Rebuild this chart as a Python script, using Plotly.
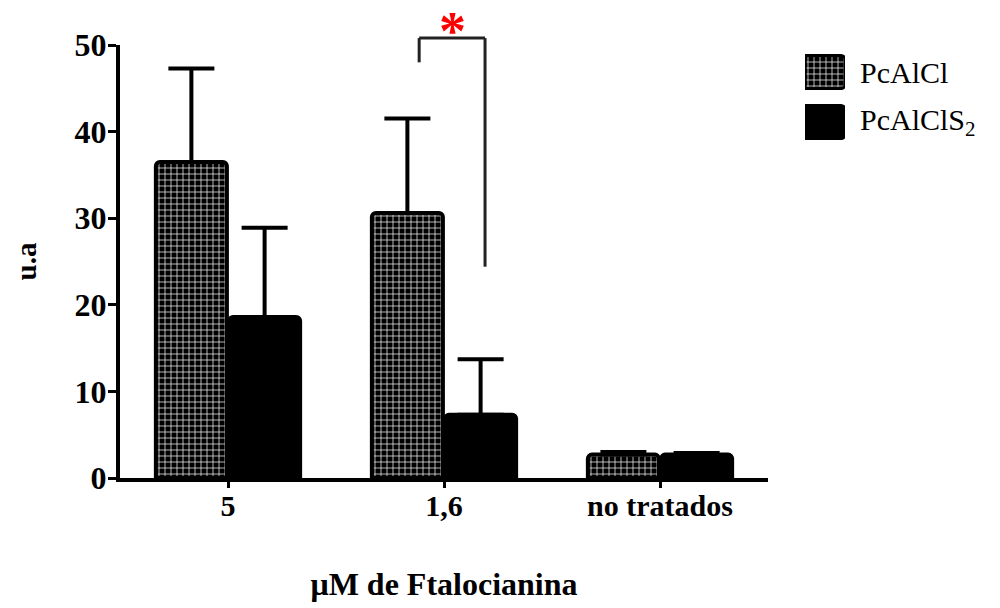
import plotly.graph_objects as go

# Concentration groups on the x axis
categories = ["5", "1,6", "no tratados"]

# Mean signal (u.a) and standard deviation for each compound
pcalcl_mean = [36.5, 30.6, 2.7]
pcalcl_sd = [10.8, 10.9, 0.3]
pcalcls2_mean = [18.6, 7.3, 2.7]
pcalcls2_sd = [10.3, 6.4, 0.2]

# Series names shown in the key
series_names = ["PcAlCl", "PcAlClS<sub>2</sub>"]

# Y axis ticks
y_ticks = [0, 10, 20, 30, 40, 50]

# Significance bracket between the two bars of the "1,6" group
sig_group = 1
sig_text = "*"

FONT = "Times New Roman, Liberation Serif, serif"
W, H = 1000, 608
ML, MT, MB = 120, 45, 130
PLOT_W = W - ML            # right margin 0, main axis uses part of the width
PLOT_H = H - MT - MB
MAIN_RIGHT_PX = 768

def px_x(px):
    return (px - ML) / PLOT_W

def px_y(px):
    return (H - MB - px) / PLOT_H

PATTERN = dict(shape="+", fgcolor="white", bgcolor="black", size=6,
               solidity=0.22, fillmode="replace")

fig = go.Figure()

fig.add_trace(go.Bar(
    name=series_names[0], x=categories, y=pcalcl_mean, showlegend=False,
    error_y=dict(type="data", array=pcalcl_sd, arrayminus=[0, 0, 0],
                 color="black", thickness=4, width=23),
    marker=dict(color="black", line=dict(color="black", width=4),
                cornerradius=4, pattern=PATTERN),
))

fig.add_trace(go.Bar(
    name=series_names[1], x=categories, y=pcalcls2_mean, showlegend=False,
    error_y=dict(type="data", array=pcalcls2_sd, arrayminus=[0, 0, 0],
                 color="black", thickness=4, width=23),
    marker=dict(color="black", line=dict(color="black", width=4), cornerradius=4),
))

# Key swatches drawn as bars in a small inset axis
fig.add_trace(go.Bar(
    x=[1, 1], y=series_names, orientation="h", xaxis="x2", yaxis="y2",
    width=0.66, showlegend=False, hoverinfo="skip",
    marker=dict(color="black", line=dict(color="black", width=3), cornerradius=4,
                pattern=dict(shape=["+", ""], fgcolor="white", bgcolor="black",
                             size=6, solidity=0.22, fillmode="replace")),
))
for name in series_names:
    fig.add_annotation(x=px_x(858), xref="paper", y=name, yref="y2",
                       text=name, showarrow=False, xanchor="left", yanchor="middle",
                       font=dict(family=FONT, size=30, color="black"))

# Bracket: left leg over the PcAlCl bar, right leg over the PcAlClS2 bar
x_left = sig_group - 0.115
x_right = sig_group + 0.19
y_top, y_left_end, y_right_end = 50.8, 48.0, 24.4
ymax = y_ticks[-1]
bracket_style = dict(color="#222222", width=3)
fig.add_shape(type="line", xref="x", yref="paper", x0=x_left, x1=x_right,
              y0=y_top / ymax, y1=y_top / ymax, line=bracket_style)
fig.add_shape(type="line", xref="x", yref="paper", x0=x_left, x1=x_left,
              y0=y_top / ymax, y1=y_left_end / ymax, line=bracket_style)
fig.add_shape(type="line", xref="x", yref="paper", x0=x_right, x1=x_right,
              y0=y_top / ymax, y1=y_right_end / ymax, line=bracket_style)
fig.add_annotation(x=(x_left + x_right) / 2, xref="x", y=y_top / ymax, yref="paper",
                   text=sig_text, showarrow=False, yanchor="bottom", yshift=-25,
                   font=dict(family=FONT, size=54, color="red", weight="bold"))

AXIS_COMMON = dict(showline=True, linecolor="black", linewidth=4,
                   ticks="outside", tickwidth=3, tickcolor="black",
                   showgrid=False, zeroline=False)

fig.update_layout(
    width=W, height=H,
    margin=dict(l=ML, r=0, t=MT, b=MB),
    paper_bgcolor="white", plot_bgcolor="white",
    barmode="group", bargap=0.322, bargroupgap=0.03,
    font=dict(family=FONT, color="black"),
    showlegend=False,
    xaxis=dict(
        domain=[0, px_x(MAIN_RIGHT_PX)],
        type="category", range=[-0.5, 2.5],
        ticklen=6, ticklabelstandoff=-8,
        tickfont=dict(family=FONT, size=30, color="black", weight="bold"),
        title=dict(text="μM de Ftalocianina", standoff=53,
                   font=dict(family=FONT, size=32, color="black", weight="bold")),
        **AXIS_COMMON,
    ),
    yaxis=dict(
        range=[0, ymax], tickvals=y_ticks,
        ticklen=8, ticklabelstandoff=-5,
        tickfont=dict(family=FONT, size=32, color="black", weight="bold"),
        title=dict(text="u.a", standoff=30,
                   font=dict(family=FONT, size=29, color="black", weight="bold")),
        **AXIS_COMMON,
    ),
    xaxis2=dict(domain=[px_x(805), px_x(845)], anchor="y2", range=[0, 1],
                visible=False, fixedrange=True),
    yaxis2=dict(domain=[px_y(147), px_y(47)], anchor="x2", range=[1.5, -0.5],
                visible=False, fixedrange=True, type="category"),
)

fig.write_html("out.html")
